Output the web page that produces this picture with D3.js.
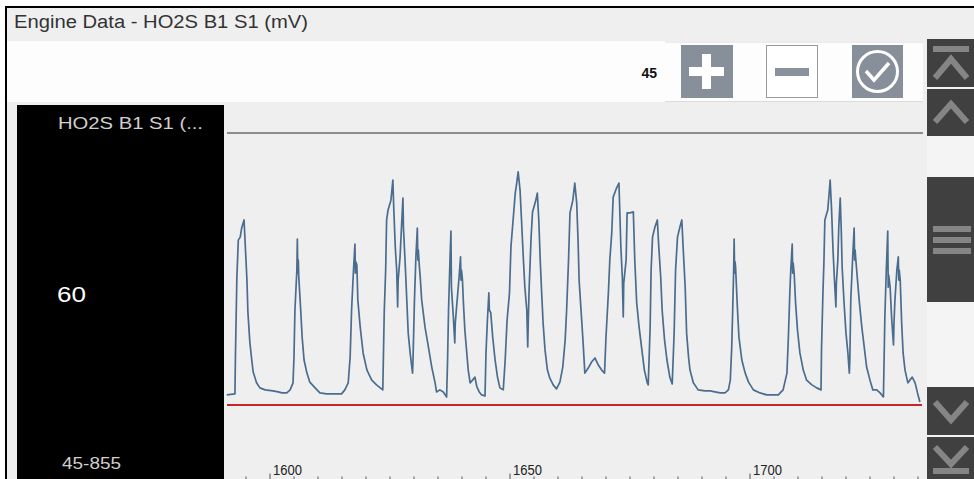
<!DOCTYPE html>
<html><head><meta charset="utf-8">
<script src="https://cdn.jsdelivr.net/npm/d3@7"></script>
<style>html,body{margin:0;padding:0;background:#fff;overflow:hidden}svg{display:block}</style>
</head><body><svg id="c" width="974" height="479"></svg>
<script>
// ---------- data ----------
const titleText = "Engine Data - HO2S B1 S1 (mV)";
const paramLabel = "HO2S B1 S1 (...";
const currentValue = 60;
const rangeMin = 45;
const rangeMax = 855;
const stepValue = 45;
const xTickValues = d3.range(1595, 1736, 5);
const xLabelValues = [1600, 1650, 1700];
const frames = [1591.1,1592.8,1592.9,1593.2,1593.5,1593.9,1594.2,1594.7,1594.9,1595.3,1595.5,1595.9,1596.3,1596.6,1597.3,1598.0,1599.1,1600.7,1601.8,1602.6,1603.6,1604.3,1604.9,1605.1,1605.3,1605.7,1605.8,1605.9,1606.0,1606.1,1606.5,1606.8,1607.2,1607.8,1608.4,1609.5,1610.5,1611.9,1615.0,1615.7,1616.4,1616.8,1617.1,1617.5,1617.8,1617.9,1618.0,1618.2,1618.4,1618.9,1619.5,1620.3,1621.3,1622.3,1623.6,1623.9,1624.2,1624.4,1624.7,1625.3,1625.7,1625.9,1626.2,1626.5,1626.7,1626.8,1627.2,1627.5,1627.8,1627.9,1628.3,1628.6,1628.9,1629.3,1629.8,1629.9,1630.2,1630.5,1630.8,1630.9,1631.0,1631.2,1631.4,1631.7,1632.4,1633.1,1633.8,1634.5,1634.8,1635.5,1636.2,1636.9,1637.1,1637.3,1637.6,1637.8,1637.9,1638.3,1638.6,1638.7,1639.1,1639.5,1639.8,1639.9,1640.0,1640.2,1640.4,1640.7,1641.1,1641.4,1641.8,1642.3,1642.8,1643.2,1643.7,1644.2,1644.9,1645.1,1645.4,1645.7,1645.8,1646.1,1646.5,1647.0,1647.5,1648.0,1648.7,1649.1,1649.5,1650.0,1650.3,1650.8,1651.2,1651.5,1651.8,1652.2,1652.5,1652.9,1653.2,1653.6,1653.8,1653.9,1654.1,1654.5,1654.8,1655.4,1655.8,1656.1,1656.4,1656.7,1657.0,1657.4,1657.9,1658.4,1659.1,1659.8,1660.5,1661.1,1661.6,1661.9,1662.3,1662.6,1663.2,1663.6,1664.0,1664.3,1664.5,1664.9,1665.3,1665.7,1666.4,1667.1,1667.8,1668.5,1669.2,1669.8,1670.1,1670.6,1670.9,1671.3,1671.6,1672.3,1672.8,1673.2,1673.5,1673.7,1673.8,1674.3,1674.5,1675.1,1675.8,1676.1,1676.5,1677.0,1677.5,1678.1,1678.7,1678.9,1679.3,1679.5,1679.8,1680.3,1680.8,1681.1,1681.5,1681.8,1682.3,1682.8,1683.4,1683.9,1684.3,1684.6,1685.0,1685.5,1685.9,1686.2,1686.6,1686.9,1687.3,1687.6,1688.3,1689.3,1690.7,1691.8,1692.8,1693.9,1694.9,1695.6,1696.0,1696.3,1696.5,1696.7,1696.8,1696.9,1697.0,1697.1,1697.5,1697.8,1698.4,1699.1,1699.8,1700.8,1702.2,1703.6,1706.0,1707.0,1707.8,1708.1,1708.4,1708.6,1708.9,1709.0,1709.1,1709.3,1709.6,1710.0,1710.5,1711.2,1711.9,1713.0,1714.0,1714.9,1715.0,1715.3,1715.5,1715.7,1716.3,1716.6,1716.8,1717.1,1717.4,1717.7,1718.0,1718.1,1718.4,1718.6,1718.9,1719.1,1719.3,1719.7,1720.1,1720.5,1720.8,1720.9,1721.1,1721.5,1721.8,1721.9,1722.0,1722.1,1722.5,1722.9,1723.4,1723.9,1724.4,1725.1,1725.7,1726.5,1727.2,1727.9,1728.2,1728.5,1728.8,1728.9,1729.0,1729.3,1729.6,1730.0,1730.1,1730.3,1730.7,1731.0,1731.1,1731.2,1731.4,1731.7,1732.0,1732.4,1733.0,1733.4,1733.9,1734.5,1735.0,1735.5];
const mv = [75,78,188,423,536,545,572,596,536,417,322,233,179,143,111,96,90,87,84,81,81,90,111,188,328,447,539,438,477,426,328,247,179,140,113,96,81,78,78,90,111,188,328,447,524,438,471,462,358,277,200,149,119,105,90,319,447,596,626,655,715,626,516,447,337,417,486,575,661,575,456,358,259,200,140,179,358,486,572,477,507,462,426,358,277,218,158,111,84,90,84,69,179,328,477,563,396,307,230,289,358,426,486,417,447,417,349,268,200,149,111,119,128,99,84,75,72,200,298,379,328,319,247,179,128,96,90,179,298,379,516,605,676,706,739,685,596,477,396,328,218,289,396,545,620,650,676,596,477,379,289,209,149,125,105,93,113,158,239,328,477,617,655,706,647,527,417,328,239,140,155,173,185,164,149,140,247,379,477,557,664,691,706,516,426,307,408,477,617,617,620,477,349,277,218,149,111,105,277,447,545,575,596,516,426,328,239,179,128,108,259,447,545,575,596,507,396,259,188,149,111,90,87,87,84,81,81,90,119,218,328,447,539,438,471,456,328,247,179,140,113,90,81,75,75,90,140,247,379,447,524,438,468,438,349,268,200,149,119,105,96,90,209,379,468,596,626,676,715,626,507,417,337,408,477,575,661,575,456,349,259,200,140,179,358,486,572,477,507,486,417,349,277,218,158,119,90,90,81,69,307,447,563,396,432,396,307,224,289,358,447,486,417,447,417,289,200,149,111,119,128,111,81,54];

// ---------- layout ----------
const W = 974, H = 479;
const svg = d3.select("#c");
const plotL = 226.3, plotR = 922.3, plotTop = 133, plotBottom = 405;
const x = d3.scaleLinear().domain([1591, 1736]).range([plotL, plotR]);
const y = d3.scaleLinear().domain([rangeMin, rangeMax]).range([plotBottom, plotTop]);
const FONT = "'Liberation Sans', Arial, sans-serif";

svg.append("rect").attr("width", W).attr("height", H).attr("fill", "#fff");
// base gray
svg.append("rect").attr("x", 7).attr("y", 8).attr("width", W - 7).attr("height", H - 8).attr("fill", "#efefef");
// outer black frame
svg.append("rect").attr("x", 5).attr("y", 6).attr("width", W - 5).attr("height", 2).attr("fill", "#000");
svg.append("rect").attr("x", 5).attr("y", 6).attr("width", 2).attr("height", H - 6).attr("fill", "#000");

// title
svg.append("text").attr("x", 14).attr("y", 28).attr("font-family", FONT).attr("font-size", 18)
  .attr("textLength", 294).attr("lengthAdjust", "spacingAndGlyphs")
  .attr("fill", "#333").text(titleText);

// white control band
svg.append("rect").attr("x", 7).attr("y", 41).attr("width", 916).attr("height", 61).attr("fill", "#fdfdfd");
svg.append("line").attr("x1", 665).attr("x2", 923).attr("y1", 42).attr("y2", 42).attr("stroke", "#dcdcdc");
svg.append("line").attr("x1", 665).attr("x2", 923).attr("y1", 101.5).attr("y2", 101.5).attr("stroke", "#dcdcdc");

// step value
svg.append("text").attr("x", 657).attr("y", 78).attr("text-anchor", "end").attr("font-family", FONT)
  .attr("font-size", 14).attr("font-weight", "bold").attr("fill", "#111").text(stepValue);

// plus button
const btnY = 45, btnH = 53;
svg.append("rect").attr("x", 681).attr("y", btnY).attr("width", 52).attr("height", btnH).attr("fill", "#868f9a");
svg.append("rect").attr("x", 689).attr("y", 67).attr("width", 35).attr("height", 9).attr("fill", "#fff");
svg.append("rect").attr("x", 702).attr("y", 54).attr("width", 9).attr("height", 35).attr("fill", "#fff");
// minus button
svg.append("rect").attr("x", 766.5).attr("y", btnY + 0.5).attr("width", 51).attr("height", btnH - 1).attr("fill", "#fff").attr("stroke", "#9a9a9a");
svg.append("rect").attr("x", 775).attr("y", 68).attr("width", 34).attr("height", 8).attr("fill", "#8a929c");
// check button
svg.append("rect").attr("x", 852).attr("y", btnY).attr("width", 51).attr("height", btnH).attr("fill", "#868f9a");
svg.append("circle").attr("cx", 877.5).attr("cy", 71.5).attr("r", 20).attr("fill", "none").attr("stroke", "#fff").attr("stroke-width", 3);
svg.append("path").attr("d", "M866,71 L874,80 L889,63").attr("fill", "none").attr("stroke", "#fff").attr("stroke-width", 3.5);

// black value panel
svg.append("rect").attr("x", 17).attr("y", 105).attr("width", 207).attr("height", H - 105).attr("fill", "#000");
svg.append("text").attr("x", 58).attr("y", 129).attr("font-family", FONT).attr("font-size", 17)
  .attr("textLength", 145).attr("lengthAdjust", "spacingAndGlyphs")
  .attr("fill", "#cfcfcf").text(paramLabel);
svg.append("text").attr("x", 57).attr("y", 302).attr("font-family", FONT).attr("font-size", 22)
  .attr("textLength", 29).attr("lengthAdjust", "spacingAndGlyphs")
  .attr("fill", "#fff").text(currentValue);
svg.append("text").attr("x", 62).attr("y", 469).attr("font-family", FONT).attr("font-size", 17)
  .attr("textLength", 59).attr("lengthAdjust", "spacingAndGlyphs")
  .attr("fill", "#cfcfcf").text(rangeMin + "-" + rangeMax);

// max / min lines
svg.append("line").attr("x1", 227).attr("x2", 923).attr("y1", y(rangeMax)).attr("y2", y(rangeMax))
  .attr("stroke", "#8c8c8c").attr("stroke-width", 2);
svg.append("line").attr("x1", 227).attr("x2", 922).attr("y1", y(rangeMin)).attr("y2", y(rangeMin))
  .attr("stroke", "#c3262c").attr("stroke-width", 2);

// trace
const pts = frames.map((f, i) => ({f, v: mv[i]}));
svg.append("path").datum(pts)
  .attr("d", d3.line().x(d => x(d.f)).y(d => y(d.v)))
  .attr("fill", "none").attr("stroke", "#4a6d8f").attr("stroke-width", 1.7).attr("stroke-linejoin", "round");

// x axis (frames)
const ax = svg.append("g").attr("transform", "translate(0,479.5)")
  .call(d3.axisTop(x).tickValues(xTickValues).tickSize(3).tickSizeOuter(0)
    .tickFormat(d => xLabelValues.includes(d) ? d : ""));
ax.select(".domain").attr("stroke", "#666");
ax.selectAll(".tick line").attr("stroke", "#555")
  .attr("y2", d => xLabelValues.includes(d) ? -6 : -3);
ax.selectAll(".tick text").attr("text-anchor", "start").attr("x", 3).attr("y", -5).attr("dy", 0)
  .attr("font-family", FONT).attr("font-size", 14).attr("fill", "#222")
  .attr("textLength", d => xLabelValues.includes(d) ? 29 : null).attr("lengthAdjust", "spacingAndGlyphs");

// scrollbar
const sbX = 927, sbW = W - 927;
const dark = "#404040", chev = "#858585";
const sb = svg.append("g");
sb.append("rect").attr("x", sbX).attr("y", 39).attr("width", sbW).attr("height", H - 39).attr("fill", "#f4f4f4");
const buttons = [[39, 48], [89, 47], [387, 48], [437, 42]];
buttons.forEach(([by, bh]) => sb.append("rect").attr("x", sbX).attr("y", by).attr("width", sbW).attr("height", bh).attr("fill", dark));
sb.append("rect").attr("x", sbX).attr("y", 177).attr("width", sbW).attr("height", 125).attr("fill", dark);
[226, 237, 248].forEach(by => sb.append("rect").attr("x", 933).attr("y", by).attr("width", 38).attr("height", 6).attr("fill", chev));
// chevrons
sb.append("rect").attr("x", 933).attr("y", 46).attr("width", 36).attr("height", 6).attr("fill", chev);
sb.append("path").attr("d", "M935,78 L951,59 L967,78").attr("fill", "none").attr("stroke", chev).attr("stroke-width", 6);
sb.append("path").attr("d", "M935,122 L951,104 L967,122").attr("fill", "none").attr("stroke", chev).attr("stroke-width", 6);
sb.append("path").attr("d", "M935,402 L951,420 L967,402").attr("fill", "none").attr("stroke", chev).attr("stroke-width", 6);
sb.append("path").attr("d", "M935,447 L951,464 L967,447").attr("fill", "none").attr("stroke", chev).attr("stroke-width", 6);
sb.append("rect").attr("x", 933).attr("y", 468).attr("width", 36).attr("height", 6).attr("fill", chev);
</script></body></html>
